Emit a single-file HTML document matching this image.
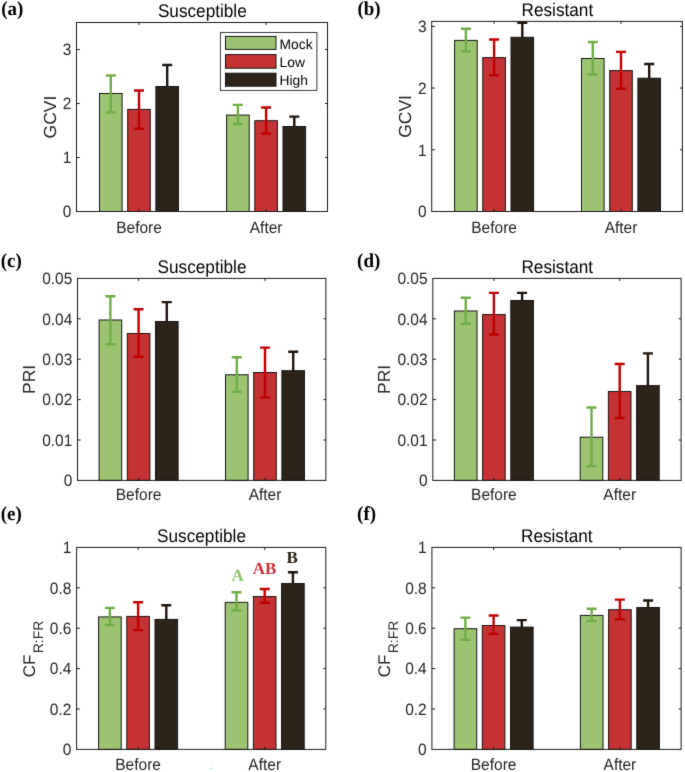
<!DOCTYPE html>
<html><head><meta charset="utf-8"><title>Figure</title>
<style>
html,body{margin:0;padding:0;background:#fff;}
body{width:685px;height:772px;overflow:hidden;}
svg{display:block;}
</style></head>
<body>
<svg width="685" height="772" viewBox="0 0 685 772">
<defs><filter id="soft" filterUnits="userSpaceOnUse" x="0" y="0" width="685" height="772" color-interpolation-filters="sRGB"><feConvolveMatrix order="3" kernelMatrix="0.01000 0.08000 0.01000 0.08000 0.64000 0.08000 0.01000 0.08000 0.01000" edgeMode="duplicate" preserveAlpha="true"/></filter></defs>
<g filter="url(#soft)">
<rect width="685" height="772" fill="#fff"/>
<g font-family='"Liberation Sans", sans-serif' fill="#262626" text-rendering="geometricPrecision">
<rect x="99.5" y="93.5" width="22.6" height="118" fill="#9cc371" stroke="#161616" stroke-width="1"/>
<rect x="127.7" y="109.4" width="22.6" height="102.1" fill="#c43234" stroke="#161616" stroke-width="1"/>
<rect x="155.9" y="86.5" width="22.6" height="125" fill="#2c231a" stroke="#161616" stroke-width="1"/>
<rect x="226.6" y="115.1" width="22.6" height="96.4" fill="#9cc371" stroke="#161616" stroke-width="1"/>
<rect x="254.8" y="120.7" width="22.6" height="90.8" fill="#c43234" stroke="#161616" stroke-width="1"/>
<rect x="283" y="126.5" width="22.6" height="85" fill="#2c231a" stroke="#161616" stroke-width="1"/>
<path d="M110.8 75.5V112.4M105.8 75.5H115.8M105.8 112.4H115.8" stroke="#70ad47" stroke-width="2.4" fill="none"/>
<path d="M139 90.5V128.8M134 90.5H144M134 128.8H144" stroke="#c00000" stroke-width="2.4" fill="none"/>
<path d="M167.2 65V87M162.2 65H172.2" stroke="#1e150d" stroke-width="2.4" fill="none"/>
<path d="M237.9 104.9V124M232.9 104.9H242.9M232.9 124H242.9" stroke="#70ad47" stroke-width="2.4" fill="none"/>
<path d="M266.1 107.5V133.5M261.1 107.5H271.1M261.1 133.5H271.1" stroke="#c00000" stroke-width="2.4" fill="none"/>
<path d="M294.3 116.6V127M289.3 116.6H299.3" stroke="#1e150d" stroke-width="2.4" fill="none"/>
<rect x="76.5" y="22.5" width="251" height="189" fill="none" stroke="#1a1a1a" stroke-width="1"/>
<text transform="translate(71.3 217.38) scale(1 1.06)" text-anchor="end" font-size="15.5">0</text>
<path d="M76.5 157.5H79.7M327.5 157.5H325.1" stroke="#1a1a1a" stroke-width="1"/>
<text transform="translate(71.3 163.38) scale(1 1.06)" text-anchor="end" font-size="15.5">1</text>
<path d="M76.5 103.5H79.7M327.5 103.5H325.1" stroke="#1a1a1a" stroke-width="1"/>
<text transform="translate(71.3 109.38) scale(1 1.06)" text-anchor="end" font-size="15.5">2</text>
<path d="M76.5 49.5H79.7M327.5 49.5H325.1" stroke="#1a1a1a" stroke-width="1"/>
<text transform="translate(71.3 55.38) scale(1 1.06)" text-anchor="end" font-size="15.5">3</text>
<path d="M139 211.5V209M139 22.5V25" stroke="#1a1a1a" stroke-width="1"/>
<text transform="translate(139 232.8) scale(1 1.06)" text-anchor="middle" font-size="15.5">Before</text>
<path d="M266.1 211.5V209M266.1 22.5V25" stroke="#1a1a1a" stroke-width="1"/>
<text transform="translate(266.1 232.8) scale(1 1.06)" text-anchor="middle" font-size="15.5">After</text>
<text transform="translate(202.3 16.8) scale(1 1.06)" text-anchor="middle" font-size="17.2" fill="#000">Susceptible</text>
<text transform="translate(55.7 117) rotate(-90)" text-anchor="middle" font-size="17.5">GCVI</text>
<text transform="translate(1.2 14.55) scale(1 1.04)" font-family='"Liberation Serif", serif' font-weight="bold" font-size="19" fill="#000">(a)</text>
<rect x="454.6" y="40.4" width="22.6" height="171.1" fill="#9cc371" stroke="#161616" stroke-width="1"/>
<rect x="482.8" y="57.6" width="22.6" height="153.9" fill="#c43234" stroke="#161616" stroke-width="1"/>
<rect x="511" y="37.3" width="22.6" height="174.2" fill="#2c231a" stroke="#161616" stroke-width="1"/>
<rect x="581.5" y="58.5" width="22.6" height="153" fill="#9cc371" stroke="#161616" stroke-width="1"/>
<rect x="609.7" y="70.6" width="22.6" height="140.9" fill="#c43234" stroke="#161616" stroke-width="1"/>
<rect x="637.9" y="78.2" width="22.6" height="133.3" fill="#2c231a" stroke="#161616" stroke-width="1"/>
<path d="M465.9 28.7V51.4M460.9 28.7H470.9M460.9 51.4H470.9" stroke="#70ad47" stroke-width="2.4" fill="none"/>
<path d="M494.1 39.5V75.3M489.1 39.5H499.1M489.1 75.3H499.1" stroke="#c00000" stroke-width="2.4" fill="none"/>
<path d="M522.3 22.8V37.8M517.3 22.8H527.3" stroke="#1e150d" stroke-width="2.4" fill="none"/>
<path d="M592.8 42V74.5M587.8 42H597.8M587.8 74.5H597.8" stroke="#70ad47" stroke-width="2.4" fill="none"/>
<path d="M621 51.9V88.7M616 51.9H626M616 88.7H626" stroke="#c00000" stroke-width="2.4" fill="none"/>
<path d="M649.2 64V78.7M644.2 64H654.2" stroke="#1e150d" stroke-width="2.4" fill="none"/>
<rect x="431.7" y="21.4" width="250.7" height="190.1" fill="none" stroke="#1a1a1a" stroke-width="1"/>
<text transform="translate(426.5 217.38) scale(1 1.06)" text-anchor="end" font-size="15.5">0</text>
<path d="M431.7 149.78H434.9M682.4 149.78H680" stroke="#1a1a1a" stroke-width="1"/>
<text transform="translate(426.5 155.66) scale(1 1.06)" text-anchor="end" font-size="15.5">1</text>
<path d="M431.7 88.06H434.9M682.4 88.06H680" stroke="#1a1a1a" stroke-width="1"/>
<text transform="translate(426.5 93.94) scale(1 1.06)" text-anchor="end" font-size="15.5">2</text>
<path d="M431.7 26.34H434.9M682.4 26.34H680" stroke="#1a1a1a" stroke-width="1"/>
<text transform="translate(426.5 32.22) scale(1 1.06)" text-anchor="end" font-size="15.5">3</text>
<path d="M494.1 211.5V209M494.1 21.4V23.9" stroke="#1a1a1a" stroke-width="1"/>
<text transform="translate(494.1 232.8) scale(1 1.06)" text-anchor="middle" font-size="15.5">Before</text>
<path d="M621 211.5V209M621 21.4V23.9" stroke="#1a1a1a" stroke-width="1"/>
<text transform="translate(621 232.8) scale(1 1.06)" text-anchor="middle" font-size="15.5">After</text>
<text transform="translate(557.35 15.7) scale(1 1.06)" text-anchor="middle" font-size="17.2" fill="#000">Resistant</text>
<text transform="translate(411.1 116.45) rotate(-90)" text-anchor="middle" font-size="17.5">GCVI</text>
<text transform="translate(357.4 15.05) scale(1 1.04)" font-family='"Liberation Serif", serif' font-weight="bold" font-size="19" fill="#000">(b)</text>
<rect x="99.1" y="320" width="22.6" height="160.4" fill="#9cc371" stroke="#161616" stroke-width="1"/>
<rect x="127.3" y="333.5" width="22.6" height="146.9" fill="#c43234" stroke="#161616" stroke-width="1"/>
<rect x="155.5" y="321.5" width="22.6" height="158.9" fill="#2c231a" stroke="#161616" stroke-width="1"/>
<rect x="225.5" y="374.8" width="22.6" height="105.6" fill="#9cc371" stroke="#161616" stroke-width="1"/>
<rect x="253.7" y="372.5" width="22.6" height="107.9" fill="#c43234" stroke="#161616" stroke-width="1"/>
<rect x="281.9" y="370.7" width="22.6" height="109.7" fill="#2c231a" stroke="#161616" stroke-width="1"/>
<path d="M110.4 296.2V344.2M105.4 296.2H115.4M105.4 344.2H115.4" stroke="#70ad47" stroke-width="2.4" fill="none"/>
<path d="M138.6 309.3V356.7M133.6 309.3H143.6M133.6 356.7H143.6" stroke="#c00000" stroke-width="2.4" fill="none"/>
<path d="M166.8 302.1V322M161.8 302.1H171.8" stroke="#1e150d" stroke-width="2.4" fill="none"/>
<path d="M236.8 357.3V391.9M231.8 357.3H241.8M231.8 391.9H241.8" stroke="#70ad47" stroke-width="2.4" fill="none"/>
<path d="M265 347.6V397.4M260 347.6H270M260 397.4H270" stroke="#c00000" stroke-width="2.4" fill="none"/>
<path d="M293.2 351.8V371.2M288.2 351.8H298.2" stroke="#1e150d" stroke-width="2.4" fill="none"/>
<rect x="77.5" y="278.4" width="248.4" height="202" fill="none" stroke="#1a1a1a" stroke-width="1"/>
<text transform="translate(72.3 486.28) scale(1 1.06)" text-anchor="end" font-size="15.5">0</text>
<path d="M77.5 440H80.7M325.9 440H323.5" stroke="#1a1a1a" stroke-width="1"/>
<text transform="translate(72.3 445.88) scale(1 1.06)" text-anchor="end" font-size="15.5">0.01</text>
<path d="M77.5 399.6H80.7M325.9 399.6H323.5" stroke="#1a1a1a" stroke-width="1"/>
<text transform="translate(72.3 405.48) scale(1 1.06)" text-anchor="end" font-size="15.5">0.02</text>
<path d="M77.5 359.2H80.7M325.9 359.2H323.5" stroke="#1a1a1a" stroke-width="1"/>
<text transform="translate(72.3 365.08) scale(1 1.06)" text-anchor="end" font-size="15.5">0.03</text>
<path d="M77.5 318.8H80.7M325.9 318.8H323.5" stroke="#1a1a1a" stroke-width="1"/>
<text transform="translate(72.3 324.68) scale(1 1.06)" text-anchor="end" font-size="15.5">0.04</text>
<text transform="translate(72.3 284.28) scale(1 1.06)" text-anchor="end" font-size="15.5">0.05</text>
<path d="M138.6 480.4V477.9M138.6 278.4V280.9" stroke="#1a1a1a" stroke-width="1"/>
<text transform="translate(138.6 500.2) scale(1 1.06)" text-anchor="middle" font-size="15.5">Before</text>
<path d="M265 480.4V477.9M265 278.4V280.9" stroke="#1a1a1a" stroke-width="1"/>
<text transform="translate(265 500.2) scale(1 1.06)" text-anchor="middle" font-size="15.5">After</text>
<text transform="translate(202 272.7) scale(1 1.06)" text-anchor="middle" font-size="17.2" fill="#000">Susceptible</text>
<text transform="translate(35 379.4) rotate(-90)" text-anchor="middle" font-size="17.5">PRI</text>
<text transform="translate(0.7 267.45) scale(1 1.04)" font-family='"Liberation Serif", serif' font-weight="bold" font-size="19" fill="#000">(c)</text>
<rect x="454.4" y="311" width="22.6" height="169.4" fill="#9cc371" stroke="#161616" stroke-width="1"/>
<rect x="482.6" y="314.6" width="22.6" height="165.8" fill="#c43234" stroke="#161616" stroke-width="1"/>
<rect x="510.8" y="300.5" width="22.6" height="179.9" fill="#2c231a" stroke="#161616" stroke-width="1"/>
<rect x="580.2" y="437.2" width="22.6" height="43.2" fill="#9cc371" stroke="#161616" stroke-width="1"/>
<rect x="608.4" y="391.5" width="22.6" height="88.9" fill="#c43234" stroke="#161616" stroke-width="1"/>
<rect x="636.6" y="385.6" width="22.6" height="94.8" fill="#2c231a" stroke="#161616" stroke-width="1"/>
<path d="M465.7 297.7V323.8M460.7 297.7H470.7M460.7 323.8H470.7" stroke="#70ad47" stroke-width="2.4" fill="none"/>
<path d="M493.9 292.9V334.5M488.9 292.9H498.9M488.9 334.5H498.9" stroke="#c00000" stroke-width="2.4" fill="none"/>
<path d="M522.1 292.9V301M517.1 292.9H527.1" stroke="#1e150d" stroke-width="2.4" fill="none"/>
<path d="M591.5 407.5V466.1M586.5 407.5H596.5M586.5 466.1H596.5" stroke="#70ad47" stroke-width="2.4" fill="none"/>
<path d="M619.7 364V418M614.7 364H624.7M614.7 418H624.7" stroke="#c00000" stroke-width="2.4" fill="none"/>
<path d="M647.9 353.4V386.1M642.9 353.4H652.9" stroke="#1e150d" stroke-width="2.4" fill="none"/>
<rect x="432.8" y="278.4" width="248.3" height="202" fill="none" stroke="#1a1a1a" stroke-width="1"/>
<text transform="translate(427.6 486.28) scale(1 1.06)" text-anchor="end" font-size="15.5">0</text>
<path d="M432.8 440H436M681.1 440H678.7" stroke="#1a1a1a" stroke-width="1"/>
<text transform="translate(427.6 445.88) scale(1 1.06)" text-anchor="end" font-size="15.5">0.01</text>
<path d="M432.8 399.6H436M681.1 399.6H678.7" stroke="#1a1a1a" stroke-width="1"/>
<text transform="translate(427.6 405.48) scale(1 1.06)" text-anchor="end" font-size="15.5">0.02</text>
<path d="M432.8 359.2H436M681.1 359.2H678.7" stroke="#1a1a1a" stroke-width="1"/>
<text transform="translate(427.6 365.08) scale(1 1.06)" text-anchor="end" font-size="15.5">0.03</text>
<path d="M432.8 318.8H436M681.1 318.8H678.7" stroke="#1a1a1a" stroke-width="1"/>
<text transform="translate(427.6 324.68) scale(1 1.06)" text-anchor="end" font-size="15.5">0.04</text>
<text transform="translate(427.6 284.28) scale(1 1.06)" text-anchor="end" font-size="15.5">0.05</text>
<path d="M493.9 480.4V477.9M493.9 278.4V280.9" stroke="#1a1a1a" stroke-width="1"/>
<text transform="translate(493.9 500.2) scale(1 1.06)" text-anchor="middle" font-size="15.5">Before</text>
<path d="M619.7 480.4V477.9M619.7 278.4V280.9" stroke="#1a1a1a" stroke-width="1"/>
<text transform="translate(619.7 500.2) scale(1 1.06)" text-anchor="middle" font-size="15.5">After</text>
<text transform="translate(557.25 272.7) scale(1 1.06)" text-anchor="middle" font-size="17.2" fill="#000">Resistant</text>
<text transform="translate(390.3 379.4) rotate(-90)" text-anchor="middle" font-size="17.5">PRI</text>
<text transform="translate(357.1 267.15) scale(1 1.04)" font-family='"Liberation Serif", serif' font-weight="bold" font-size="19" fill="#000">(d)</text>
<rect x="98.6" y="616.9" width="22.6" height="132.5" fill="#9cc371" stroke="#161616" stroke-width="1"/>
<rect x="126.8" y="616.4" width="22.6" height="133" fill="#c43234" stroke="#161616" stroke-width="1"/>
<rect x="155" y="619.4" width="22.6" height="130" fill="#2c231a" stroke="#161616" stroke-width="1"/>
<rect x="225.2" y="602.4" width="22.6" height="147" fill="#9cc371" stroke="#161616" stroke-width="1"/>
<rect x="253.4" y="596.6" width="22.6" height="152.8" fill="#c43234" stroke="#161616" stroke-width="1"/>
<rect x="281.6" y="583.5" width="22.6" height="165.9" fill="#2c231a" stroke="#161616" stroke-width="1"/>
<path d="M109.9 607.9V625M104.9 607.9H114.9M104.9 625H114.9" stroke="#70ad47" stroke-width="2.4" fill="none"/>
<path d="M138.1 602.2V630.1M133.1 602.2H143.1M133.1 630.1H143.1" stroke="#c00000" stroke-width="2.4" fill="none"/>
<path d="M166.3 605.2V619.9M161.3 605.2H171.3" stroke="#1e150d" stroke-width="2.4" fill="none"/>
<path d="M236.5 592.2V610.5M231.5 592.2H241.5M231.5 610.5H241.5" stroke="#70ad47" stroke-width="2.4" fill="none"/>
<path d="M264.7 589V602.7M259.7 589H269.7M259.7 602.7H269.7" stroke="#c00000" stroke-width="2.4" fill="none"/>
<path d="M292.9 572.2V584M287.9 572.2H297.9" stroke="#1e150d" stroke-width="2.4" fill="none"/>
<rect x="76.6" y="547.4" width="249.2" height="202" fill="none" stroke="#1a1a1a" stroke-width="1"/>
<text transform="translate(71.4 755.28) scale(1 1.06)" text-anchor="end" font-size="15.5">0</text>
<path d="M76.6 709H79.8M325.8 709H323.4" stroke="#1a1a1a" stroke-width="1"/>
<text transform="translate(71.4 714.88) scale(1 1.06)" text-anchor="end" font-size="15.5">0.2</text>
<path d="M76.6 668.6H79.8M325.8 668.6H323.4" stroke="#1a1a1a" stroke-width="1"/>
<text transform="translate(71.4 674.48) scale(1 1.06)" text-anchor="end" font-size="15.5">0.4</text>
<path d="M76.6 628.2H79.8M325.8 628.2H323.4" stroke="#1a1a1a" stroke-width="1"/>
<text transform="translate(71.4 634.08) scale(1 1.06)" text-anchor="end" font-size="15.5">0.6</text>
<path d="M76.6 587.8H79.8M325.8 587.8H323.4" stroke="#1a1a1a" stroke-width="1"/>
<text transform="translate(71.4 593.68) scale(1 1.06)" text-anchor="end" font-size="15.5">0.8</text>
<text transform="translate(71.4 553.28) scale(1 1.06)" text-anchor="end" font-size="15.5">1</text>
<path d="M138.1 749.4V746.9M138.1 547.4V549.9" stroke="#1a1a1a" stroke-width="1"/>
<text transform="translate(138.1 769.6) scale(1 1.06)" text-anchor="middle" font-size="15.5">Before</text>
<path d="M264.7 749.4V746.9M264.7 547.4V549.9" stroke="#1a1a1a" stroke-width="1"/>
<text transform="translate(264.7 769.6) scale(1 1.06)" text-anchor="middle" font-size="15.5">After</text>
<text transform="translate(201.5 541.7) scale(1 1.06)" text-anchor="middle" font-size="17.2" fill="#000">Susceptible</text>
<text transform="translate(34.7 649) rotate(-90)" text-anchor="middle" font-size="16.9">CF<tspan font-size="13.9" dx="1.5" dy="8">R:FR</tspan></text>
<text transform="translate(0.7 520.05) scale(1 1.04)" font-family='"Liberation Serif", serif' font-weight="bold" font-size="19" fill="#000">(e)</text>
<rect x="454.1" y="628.7" width="22.6" height="120.7" fill="#9cc371" stroke="#161616" stroke-width="1"/>
<rect x="482.3" y="625.5" width="22.6" height="123.9" fill="#c43234" stroke="#161616" stroke-width="1"/>
<rect x="510.5" y="627.1" width="22.6" height="122.3" fill="#2c231a" stroke="#161616" stroke-width="1"/>
<rect x="580.4" y="615.4" width="22.6" height="134" fill="#9cc371" stroke="#161616" stroke-width="1"/>
<rect x="608.6" y="609.7" width="22.6" height="139.7" fill="#c43234" stroke="#161616" stroke-width="1"/>
<rect x="636.8" y="607.5" width="22.6" height="141.9" fill="#2c231a" stroke="#161616" stroke-width="1"/>
<path d="M465.4 617.6V639.8M460.4 617.6H470.4M460.4 639.8H470.4" stroke="#70ad47" stroke-width="2.4" fill="none"/>
<path d="M493.6 615.5V634M488.6 615.5H498.6M488.6 634H498.6" stroke="#c00000" stroke-width="2.4" fill="none"/>
<path d="M521.8 620.1V627.6M516.8 620.1H526.8" stroke="#1e150d" stroke-width="2.4" fill="none"/>
<path d="M591.7 608.8V621M586.7 608.8H596.7M586.7 621H596.7" stroke="#70ad47" stroke-width="2.4" fill="none"/>
<path d="M619.9 599.6V619.2M614.9 599.6H624.9M614.9 619.2H624.9" stroke="#c00000" stroke-width="2.4" fill="none"/>
<path d="M648.1 600.5V608M643.1 600.5H653.1" stroke="#1e150d" stroke-width="2.4" fill="none"/>
<rect x="431.9" y="547.4" width="249.2" height="202" fill="none" stroke="#1a1a1a" stroke-width="1"/>
<text transform="translate(426.7 755.28) scale(1 1.06)" text-anchor="end" font-size="15.5">0</text>
<path d="M431.9 709H435.1M681.1 709H678.7" stroke="#1a1a1a" stroke-width="1"/>
<text transform="translate(426.7 714.88) scale(1 1.06)" text-anchor="end" font-size="15.5">0.2</text>
<path d="M431.9 668.6H435.1M681.1 668.6H678.7" stroke="#1a1a1a" stroke-width="1"/>
<text transform="translate(426.7 674.48) scale(1 1.06)" text-anchor="end" font-size="15.5">0.4</text>
<path d="M431.9 628.2H435.1M681.1 628.2H678.7" stroke="#1a1a1a" stroke-width="1"/>
<text transform="translate(426.7 634.08) scale(1 1.06)" text-anchor="end" font-size="15.5">0.6</text>
<path d="M431.9 587.8H435.1M681.1 587.8H678.7" stroke="#1a1a1a" stroke-width="1"/>
<text transform="translate(426.7 593.68) scale(1 1.06)" text-anchor="end" font-size="15.5">0.8</text>
<text transform="translate(426.7 553.28) scale(1 1.06)" text-anchor="end" font-size="15.5">1</text>
<path d="M493.6 749.4V746.9M493.6 547.4V549.9" stroke="#1a1a1a" stroke-width="1"/>
<text transform="translate(493.6 769.6) scale(1 1.06)" text-anchor="middle" font-size="15.5">Before</text>
<path d="M619.9 749.4V746.9M619.9 547.4V549.9" stroke="#1a1a1a" stroke-width="1"/>
<text transform="translate(619.9 769.6) scale(1 1.06)" text-anchor="middle" font-size="15.5">After</text>
<text transform="translate(556.8 541.7) scale(1 1.06)" text-anchor="middle" font-size="17.2" fill="#000">Resistant</text>
<text transform="translate(389.9 649) rotate(-90)" text-anchor="middle" font-size="16.9">CF<tspan font-size="13.9" dx="1.5" dy="8">R:FR</tspan></text>
<text transform="translate(357.1 519.75) scale(1 1.04)" font-family='"Liberation Serif", serif' font-weight="bold" font-size="19" fill="#000">(f)</text>
<rect x="220.4" y="32.5" width="96.5" height="57.9" fill="#fff" stroke="#3a3a3a" stroke-width="1"/>
<rect x="225.5" y="36.4" width="50.5" height="13" fill="#9cc371" stroke="#161616" stroke-width="1"/>
<text x="279.6" y="48.9" font-size="13.8" fill="#000">Mock</text>
<rect x="225.5" y="54.6" width="50.5" height="13.6" fill="#c43234" stroke="#161616" stroke-width="1"/>
<text x="279.6" y="67.2" font-size="13.8" fill="#000">Low</text>
<rect x="225.5" y="73.2" width="50.5" height="13" fill="#2c231a" stroke="#161616" stroke-width="1"/>
<text x="279.6" y="84.6" font-size="13.8" fill="#000">High</text>
<text x="237.6" y="580.6" text-anchor="middle" font-family='"Liberation Serif", serif' font-weight="bold" font-size="17" fill="#8cc46c">A</text>
<text x="264.5" y="573.8" text-anchor="middle" font-family='"Liberation Serif", serif' font-weight="bold" font-size="17" fill="#c8323a">AB</text>
<text x="292.2" y="563.3" text-anchor="middle" font-family='"Liberation Serif", serif' font-weight="bold" font-size="17" fill="#2b2119">B</text>
<rect x="210" y="767.8" width="2.2" height="1.2" fill="#7fe9f2"/>
<rect x="211.9" y="764.2" width="1" height="1" fill="#d8f8fa"/>
</g>
</g>
</svg>
</body></html>
